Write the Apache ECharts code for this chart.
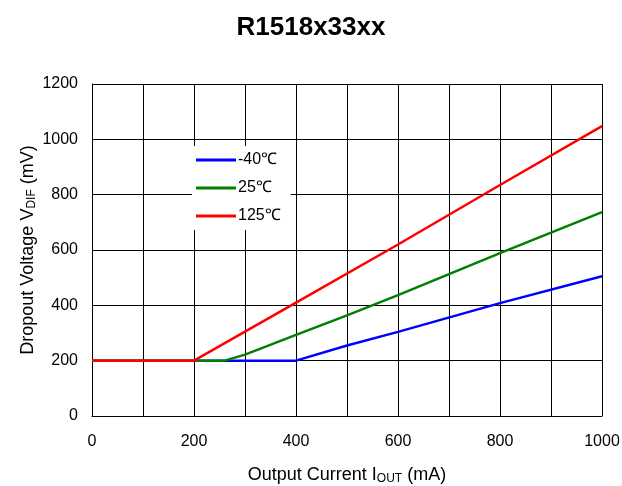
<!DOCTYPE html>
<html><head><meta charset="utf-8">
<script src="https://cdn.jsdelivr.net/npm/echarts@6/dist/echarts.min.js"></script>
<style>html,body{margin:0;padding:0;background:#fff}#c{width:622px;height:486px}</style>
</head><body><div id="c"></div>
<script>
const seriesNames = ['-40℃', '25℃', '125℃'];
const seriesColors = ['#0000ff', '#008000', '#ff0000'];
const blue = [[0,200],[400,200],[500,255],[600,304],[800,408],[1000,505]];
const green = [[0,200],[260,200],[300,222],[400,293],[500,364],[600,437],[800,589],[1000,737]];
const red = [[0,200],[200,200],[400,410],[600,620],[800,835],[1000,1048]];
const xTicks = [0,200,400,600,800,1000];
const yTicks = [0,200,400,600,800,1000,1200];

const font = 'Liberation Sans, Arial, sans-serif';
const nameRich = {
  a: {fontFamily: font, fontSize: 18, color: '#000'},
  s: {fontFamily: font, fontSize: 12, color: '#000', verticalAlign: 'bottom', padding: [7,0,0,0]}
};
const chart = echarts.init(document.getElementById('c'));
chart.setOption({
  animation: false,
  title: {text: 'R1518x33xx', left: 'center', top: 10,
    textStyle: {fontFamily: font, fontSize: 26, fontWeight: 'bold', color: '#000'}},
  grid: {left: 92, right: 20, top: 84, bottom: 70, outerBoundsMode: 'none', containLabel: false},
  legend: {
    orient: 'vertical', left: 192, top: 146, itemGap: 12,
    itemWidth: 40, itemHeight: 3, icon: 'rect',
    backgroundColor: '#fff', padding: [6, 10, 6, 4],
    textStyle: {fontFamily: font, fontSize: 16, color: '#000', padding: [0,0,0,-3]},
    data: seriesNames
  },
  xAxis: {
    type: 'value', min: 0, max: 1000, interval: 100,
    name: '{a|Output Current I}{s|OUT}{a| (mA)}', nameLocation: 'middle', nameGap: 50,
    nameMoveOverlap: false,
    nameTextStyle: {fontFamily: font, fontSize: 18, color: '#000', rich: nameRich},
    axisLine: {show: true, lineStyle: {color: '#000', width: 1}},
    axisTick: {show: false},
    axisLabel: {fontFamily: font, fontSize: 16, color: '#000', margin: 18,
      formatter: v => xTicks.includes(v) ? String(v) : ''},
    splitLine: {show: true, lineStyle: {color: '#000', width: 1}}
  },
  yAxis: {
    type: 'value', min: 0, max: 1200, interval: 200,
    name: '{a|Dropout Voltage V}{s|DIF}{a| (mV)}', nameLocation: 'middle', nameGap: 54,
    nameMoveOverlap: false,
    nameTextStyle: {fontFamily: font, fontSize: 18, color: '#000', rich: nameRich},
    axisLine: {show: true, lineStyle: {color: '#000', width: 1}},
    axisTick: {show: false},
    axisLabel: {fontFamily: font, fontSize: 16, color: '#000', margin: 14,
      formatter: v => yTicks.includes(v) ? String(v) : ''},
    splitLine: {show: true, lineStyle: {color: '#000', width: 1}}
  },
  series: [
    {name: seriesNames[0], type: 'line', data: blue, symbol: 'none', color: seriesColors[0], lineStyle: {width: 2.5}, z: 3},
    {name: seriesNames[1], type: 'line', data: green, symbol: 'none', color: seriesColors[1], lineStyle: {width: 2.5}, z: 4},
    {name: seriesNames[2], type: 'line', data: red, symbol: 'none', color: seriesColors[2], lineStyle: {width: 2.5}, z: 5}
  ]
});
</script></body></html>
